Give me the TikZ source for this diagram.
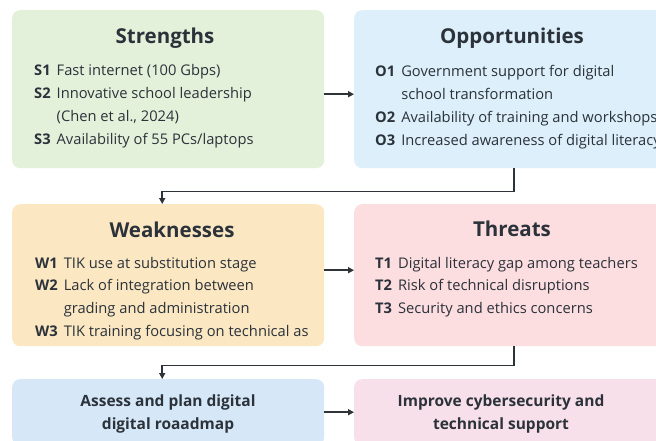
\documentclass[tikz,border=0pt]{standalone}
\usepackage{fontspec}
\setmainfont{Open Sans}
\usepackage{xcolor}
\usetikzlibrary{positioning, arrows.meta}

\definecolor{strengthfill}{HTML}{E4F1DA}
\definecolor{oppfill}{HTML}{DCEFFA}
\definecolor{weakfill}{HTML}{FBE8C3}
\definecolor{threatfill}{HTML}{FCDDE0}
\definecolor{assessfill}{HTML}{D6E8F8}
\definecolor{improvefill}{HTML}{F8E0EB}
\definecolor{inkcol}{HTML}{2B323A}
\definecolor{linecol}{HTML}{2E3338}

\begin{document}
\begin{tikzpicture}[
        x=1pt, y=-1pt,
        >={Triangle[length=6pt, width=6pt]},
        % Styles
        swotbox/.style={rectangle, rounded corners=8pt, anchor=north west, inner sep=0pt},
        titletext/.style={font=\fontsize{20.5}{24}\selectfont\bfseries, text=inkcol, anchor=base, inner sep=0pt},
        itemtext/.style={font=\fontsize{14.7}{22.7}\selectfont, text=inkcol, anchor=base west, inner sep=0pt},
        actiontext/.style={font=\fontsize{15.5}{23}\selectfont\bfseries, text=inkcol, align=center, inner sep=0pt},
        arrow/.style={->, line width=1.6pt, linecol},
    ]
        \useasboundingbox (0,0) rectangle (656,441);
        \clip (0,0) rectangle (656,441);
        \fill[white] (0,0) rectangle (656,441);

        % === SWOT BOXES ===
        \node[swotbox, fill=strengthfill, minimum width=312, minimum height=158] (strengths) at (12,10) {};
        \node[swotbox, fill=oppfill, minimum width=320, minimum height=158] (opp) at (354,10) {};
        \node[swotbox, fill=weakfill, minimum width=312, minimum height=142] (weak) at (12,204) {};
        \node[swotbox, fill=threatfill, minimum width=320, minimum height=142] (threats) at (354,204) {};

        % === ACTION BOXES (Bottom Row) ===
        \node[swotbox, fill=assessfill, minimum width=312, minimum height=66] (assess) at (12,379) {};
        \node[swotbox, fill=improvefill, minimum width=320, minimum height=66] (improve) at (354,379) {};

        % Titles
        \node[titletext] (strengthstitle) at (165,44) {Strengths};
        \node[titletext] (opptitle) at (512,44) {Opportunities};
        \node[titletext] (weaktitle) at (172,237) {Weaknesses};
        \node[titletext] (threatstitle) at (512,236) {Threats};

        % Items
        \node[itemtext] (strengthsitems) at (34,76) {\begin{tabular}[t]{@{}l@{\hspace{6pt}}l@{}}
                \textbf{S1} & Fast internet (100 Gbps)\\
                \textbf{S2} & Innovative school leadership\\
                            & (Chen et al., 2024)\\
                \textbf{S3} & Availability of 55 PCs/laptops
            \end{tabular}};
        \node[itemtext] (oppitems) at (375,77) {\begin{tabular}[t]{@{}l@{\hspace{6pt}}l@{}}
                \textbf{O1} & Government support for digital\\
                            & school transformation\\
                \textbf{O2} & Availability of training and workshops\\
                \textbf{O3} & Increased awareness of digital literacy
            \end{tabular}};
        \node[itemtext] (weakitems) at (35,268) {\begin{tabular}[t]{@{}l@{\hspace{6pt}}l@{}}
                \textbf{W1} & TIK use at substitution stage\\
                \textbf{W2} & Lack of integration between\\
                            & grading and administration\\
                \textbf{W3} & TIK training focusing on technical as
            \end{tabular}};
        \node[itemtext] (threatitems) at (375,268) {\begin{tabular}[t]{@{}l@{\hspace{6pt}}l@{}}
                \textbf{T1} & Digital literacy gap among teachers\\
                \textbf{T2} & Risk of technical disruptions\\
                \textbf{T3} & Security and ethics concerns
            \end{tabular}};

        % Action texts
        \node[actiontext] (assesstext) at (168,414) {Assess and plan digital\\digital roaadmap};
        \node[actiontext] (improvetext) at (501,414) {Improve cybersecurity and\\technical support};

        % Connections
        \draw[arrow] ([yshift=-5pt]strengths.east) -- ([yshift=-5pt]opp.west);
        \draw[arrow] (opp.south) -- ++(0,23) -| ([xshift=-6pt]weak.north);
        \draw[arrow] ([yshift=5pt]weak.east) -- ([yshift=5pt]threats.west);
        \draw[arrow] (threats.south) -- ++(0,19) -| ([xshift=-6pt]assess.north);
        \draw[arrow] (assess.east) -- (improve.west);

    \end{tikzpicture}
\end{document}
